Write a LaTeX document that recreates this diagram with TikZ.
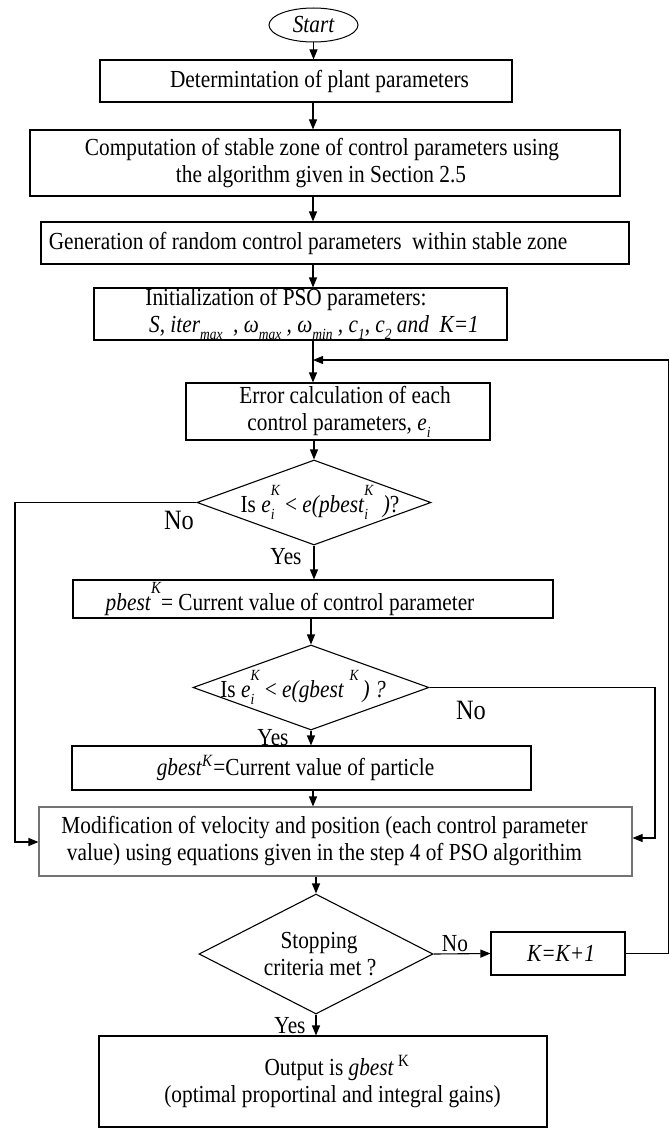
\documentclass[tikz,border=0pt]{standalone}
\usepackage{fontspec}
\setmainfont{Liberation Serif}[FakeStretch=0.87]
\usetikzlibrary{arrows.meta,shapes.geometric}

% font sizes
\newcommand\fs{\fontsize{24.5}{27}\selectfont}
\newcommand\fsbig{\fontsize{28}{30}\selectfont}
% zero-width text line, shifted horizontally by #1
\newcommand\nudge[2]{\makebox[0pt]{\hspace*{#1}\hspace*{#1}#2}}
% small lowered / raised indices
\newcommand\sbs[1]{\raisebox{-0.28em}{\fontsize{15.5}{15.5}\selectfont\itshape #1}}
\newcommand\sps[1]{\raisebox{0.72em}{\fontsize{15.5}{15.5}\selectfont\itshape #1}}
\newcommand\subsup[2]{\rlap{\sbs{#1}}\sps{#2}}

\tikzset{
  box/.style={draw, line width=1.1pt, rectangle, inner sep=0pt, align=center, font=\fs},
  dia/.style={draw, line width=1.1pt, diamond, inner sep=0pt, align=center, font=\fs},
  arr/.style={line width=1.1pt, -{Triangle[length=10pt,width=8pt]}},
  lab/.style={inner sep=0pt, font=\fs},
  biglab/.style={inner sep=0pt, font=\fsbig},
}

\begin{document}
\begin{tikzpicture}[x=1pt, y=-1pt]
\useasboundingbox (0,0) rectangle (669,1129);

% main column of the flow
\coordinate (c1) at (313,0);

% start
\node[draw, ellipse, line width=1pt, inner sep=0pt, minimum width=89pt, minimum height=34pt, font=\fs\itshape]
  (start) at (313.5,25) {\makebox[0pt]{Start}};

% process boxes
\node[box, minimum width=412pt, minimum height=42pt] (b1) at (306,81)
  {\nudge{13.5pt}{Determintation of plant parameters}};
\node[box, minimum width=590pt, minimum height=66pt] (b2) at (325,163)
  {\nudge{-3pt}{Computation of stable zone of control parameters using}\\
   \nudge{-4pt}{the algorithm given in Section 2.5}};
\node[box, minimum width=588pt, minimum height=42pt] (b3) at (335,243)
  {\nudge{-27pt}{Generation of random control parameters\ \ within stable zone}};
\node[box, minimum width=413pt, minimum height=52pt] (b4) at (300.5,314)
  {\nudge{-14.5pt}{Initialization of PSO parameters:}\\
   \nudge{13.5pt}{\itshape S, iter\sbs{max}\ \ , ω\sbs{max} , ω\sbs{min} , c\sbs{1}, c\sbs{2} and\ \ K=1}};
\node[box, minimum width=304pt, minimum height=57pt] (b5) at (338,411.5)
  {\nudge{7pt}{Error calculation of each}\\
   \nudge{1pt}{control parameters, \textit{e}\sbs{i}}};

% decision: personal best
\node[dia, minimum width=234pt, minimum height=85pt] (d1) at (314,502.5)
  {\nudge{6pt}{Is \textit{e}\subsup{i}{K} < \textit{e(pbest}\subsup{i}{K}\textit{\ \,)}?}};
\node[box, minimum width=480pt, minimum height=38pt] (pb) at (313,599)
  {\nudge{-23pt}{\textit{pbest}\raisebox{0.7em}{\fontsize{17}{17}\selectfont\itshape K}= Current value of control parameter}};

% decision: global best
\node[dia, minimum width=236pt, minimum height=85pt] (d2) at (311,687.5)
  {\nudge{-8pt}{Is \textit{e}\subsup{i}{K} < \textit{e(gbest}\ \sps{K}\textit{\,) ?}}};
\node[box, minimum width=459pt, minimum height=44pt] (gb) at (301.5,768)
  {\nudge{-6pt}{\textit{gbest}\textsuperscript{\textit{K}}=Current value of particle}};

% update step
\node[box, draw=black!55, minimum width=593pt, minimum height=69pt] (mod) at (335.5,841.5)
  {\nudge{-11pt}{Modification of velocity and position (each control parameter}\\
   \nudge{-11pt}{value) using equations given in the step 4 of PSO algorithim}};

% stopping test
\node[dia, minimum width=234pt, minimum height=120pt] (d3) at (316,954)
  {\nudge{3pt}{Stopping}\\ \nudge{4pt}{criteria met ?}};
\node[box, minimum width=134pt, minimum height=43pt] (k) at (558,953.5)
  {\nudge{3pt}{\textit{K=K+1}}};
\node[box, minimum width=448pt, minimum height=91pt] (out) at (323,1081.5)
  {\nudge{14pt}{Output is \textit{gbest}\,\textsuperscript{K}}\\
   \nudge{9.5pt}{(optimal proportinal and integral gains)}};

% branch labels
\node[biglab] (no1) at (179,520) {No};
\node[lab] (yes1) at (286,557) {Yes};
\node[biglab] (no2) at (471,710) {No};
\node[lab] (yes2) at (273,738) {Yes};
\node[lab] (no3) at (455,944) {No};
\node[lab] (yes3) at (290,1026) {Yes};

% rails of the side branches
\coordinate (join) at (313,360);
\coordinate (loop) at (668.5,360);
\coordinate (lrail) at (15,842);
\coordinate (rrail) at (655,838);

% connectors
\draw[arr] (start.south) -- (start.south |- b1.north);
\draw[arr] (b1.south -| c1) -- (b2.north -| c1);
\draw[arr] (b2.south -| c1) -- (b3.north -| c1);
\draw[arr] (b3.south -| c1) -- (b4.north -| c1);
\draw[arr] (b4.south -| c1) -- (b5.north -| c1);
\draw[arr] (b5.south -| d1.north) -- (d1.north);
\draw[arr] (d1.south) -- (d1.south |- pb.north);
\draw[arr] (pb.south -| d2.north) -- (d2.north);
\draw[arr] (d2.south) -- (d2.south |- gb.north);
\draw[arr] (gb.south -| c1) -- (mod.north -| c1);
\draw[arr] (mod.south -| d3.north) -- (d3.north);
\draw[arr] (d3.south) -- (d3.south |- out.north);
\draw[arr] (d3.east) -- (k.west);
\draw[arr] (k.east) -| (loop) -- (join);
\draw[arr] (d1.west) -| (lrail) -- (mod.west |- lrail);
\draw[arr] (d2.east) -| (rrail) -- (mod.east |- rrail);
\end{tikzpicture}
\end{document}
